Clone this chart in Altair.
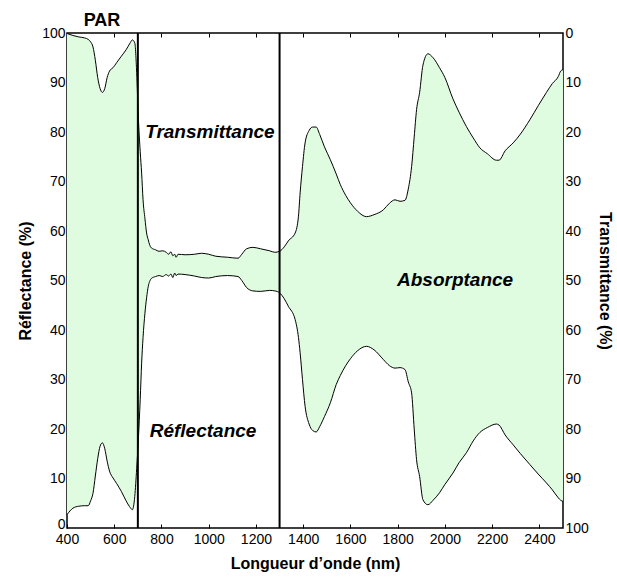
import altair as alt
import pandas as pd

# Wavelength grid (nm)
wavelength = [400, 425, 450, 475, 490, 500, 510, 520, 530, 540, 550, 560, 570, 580, 595,
              610, 630, 650, 665, 677, 687, 695, 702, 710, 716, 722, 730, 737, 744, 750,
              757, 775, 790, 805, 820, 830, 840, 848, 856, 862, 870, 900, 940, 970, 1000,
              1030, 1080, 1124, 1140, 1160, 1187, 1220, 1258, 1280, 1300, 1320, 1337, 1366,
              1380, 1387, 1397, 1408, 1425, 1440, 1455, 1470, 1490, 1515, 1540, 1557, 1580,
              1600, 1630, 1668, 1700, 1740, 1765, 1789, 1810, 1831, 1845, 1859, 1870, 1880,
              1893, 1907, 1928, 1950, 1977, 2000, 2034, 2060, 2091, 2120, 2148, 2180, 2218,
              2229, 2255, 2289, 2320, 2360, 2395, 2430, 2455, 2480, 2490, 2500]

# Reflectance (%) - left axis
reflectance = [2.7, 4.0, 4.4, 4.5, 4.5, 5.5, 7.0, 10.5, 14.0, 16.5, 17.2, 16.0, 13.5, 11.5, 10.1,
               9.0, 7.4, 5.5, 4.3, 3.7, 6.4, 12.0, 17.8, 26.0, 33.3, 38.5, 43.4, 46.5, 48.8, 49.8,
               50.4, 50.8, 51.0, 50.8, 51.2, 50.9, 51.3, 50.6, 51.5, 51.0, 51.3, 51.2, 50.9, 50.6, 50.5,
               50.8, 51.0, 50.8, 50.0, 48.6, 47.9, 47.8, 48.0, 47.9, 47.5, 46.3, 44.8, 42.1,
               38.5, 35.4, 30.0, 24.6, 21.0, 19.7, 19.4, 20.5, 22.5, 25.3, 29.0, 30.8, 32.8,
               34.2, 35.8, 36.7, 36.0, 34.0, 32.8, 32.3, 32.4, 32.0, 29.5, 27.3, 20.0, 13.8,
               10.4, 5.7, 4.7, 5.6, 7.1, 8.8, 11.1, 13.2, 15.2, 17.6, 19.3, 20.3, 21.0,
               20.8, 18.8, 16.8, 15.0, 12.8, 10.9, 9.1, 7.7, 6.1, 5.6, 5.4]

# Transmittance (%) - right axis (0 at top)
transmittance = [0.1, 0.5, 0.8, 1.0, 1.3, 1.8, 2.8, 5.5, 9.0, 11.2, 12.0, 11.2, 9.0, 7.7, 7.0,
                 6.0, 4.7, 3.4, 2.2, 1.4, 2.0, 8.0, 17.0, 24.0, 28.3, 33.7, 37.5, 40.4, 41.8, 42.8,
                 43.4, 43.8, 44.1, 44.0, 44.3, 44.7, 44.2, 45.0, 44.7, 45.3, 44.7, 44.8, 44.7, 44.5, 44.7,
                 45.1, 45.3, 45.5, 44.7, 43.6, 43.3, 43.6, 44.0, 44.3, 44.1, 43.2, 42.0, 40.4,
                 37.0, 32.3, 27.0, 22.2, 19.7, 19.0, 19.0, 20.5, 23.0, 25.6, 28.5, 30.6, 32.8,
                 34.3, 36.0, 37.1, 36.7, 35.7, 34.4, 33.7, 34.0, 33.8, 31.5, 27.0, 21.0, 15.5,
                 12.0, 6.5, 4.2, 5.0, 7.0, 9.0, 13.3, 16.0, 18.9, 21.2, 23.2, 24.4, 25.7,
                 25.7, 23.8, 22.2, 20.4, 17.5, 14.7, 12.0, 10.2, 8.8, 7.7, 7.4]

x_ticks = [400, 600, 800, 1000, 1200, 1400, 1600, 1800, 2000, 2200, 2400]
y_ticks = [0, 10, 20, 30, 40, 50, 60, 70, 80, 90, 100]
boundaries = [700, 1300]

par_text = ["PAR"]
par_x = [548]
par_y = [102.5]

zone_text = ["Transmittance", "Réflectance", "Absorptance"]
zone_x = [1005, 976, 2043]
zone_y = [79.9, 19.5, 50.2]

FILL = "#e0fce0"
FONT = "Liberation Sans"

df = pd.DataFrame({"wl": wavelength, "R": reflectance, "T": transmittance})
df["top"] = 100 - df["T"]

xs = alt.Scale(domain=[400, 2500], nice=False, zero=False)
ys = alt.Scale(domain=[0, 100], nice=False)
ts = alt.Scale(domain=[0, 100], nice=False, reverse=True)

base = alt.Chart(df)

area = base.mark_area(color=FILL, interpolate="monotone").encode(
    x=alt.X("wl:Q", scale=xs,
            axis=alt.Axis(orient="bottom", values=x_ticks, format="d", title="Longueur d’onde (nm)",
                          domain=False, offset=-4, tickSize=4, tickColor="black", tickWidth=1,
                          labelPadding=4, titlePadding=9, grid=False, labelFlush=False)),
    y=alt.Y("R:Q", scale=ys,
            axis=alt.Axis(orient="left", values=y_ticks, format="d", title="Réflectance (%)",
                          domain=False, ticks=False, tickSize=0, labelPadding=2,
                          titlePadding=8, grid=False, labelFlush=False,
                          labelBaseline={"condition": {"test": "datum.value === 0", "value": "alphabetic"},
                                         "value": "middle"})),
    y2="top:Q",
)

refl_line = base.mark_line(color="black", strokeWidth=1, interpolate="monotone").encode(
    x=alt.X("wl:Q", scale=xs,
            axis=alt.Axis(orient="top", values=x_ticks, labels=False, title=None,
                          domain=False, offset=-4, tickSize=4, tickColor="black", tickWidth=1,
                          grid=False)),
    y=alt.Y("R:Q", scale=ys, axis=None),
)

trans_line = base.mark_line(color="black", strokeWidth=1, interpolate="monotone").encode(
    x=alt.X("wl:Q", scale=xs, axis=None),
    y=alt.Y("T:Q", scale=ts,
            axis=alt.Axis(orient="right", values=y_ticks, format="d", title="Transmittance (%)",
                          domain=False, ticks=False, tickSize=0, labelPadding=2,
                          titlePadding=8, grid=False, labelFlush=False)),
)

rules = alt.Chart(pd.DataFrame({"b": boundaries})).mark_rule(
    color="black", strokeWidth=2
).encode(x=alt.X("b:Q", scale=xs, axis=None))

par = alt.Chart(pd.DataFrame({"t": par_text, "x": par_x, "y": par_y})).mark_text(
    font=FONT, fontSize=18, fontWeight="bold", color="black", baseline="middle", align="center"
).encode(
    x=alt.X("x:Q", scale=xs, axis=None),
    y=alt.Y("y:Q", scale=ys, axis=None),
    text="t:N",
)

zones = alt.Chart(pd.DataFrame({"t": zone_text, "x": zone_x, "y": zone_y})).mark_text(
    font=FONT, fontSize=19, fontWeight="bold", fontStyle="italic", color="black",
    baseline="middle", align="center"
).encode(
    x=alt.X("x:Q", scale=xs, axis=None),
    y=alt.Y("y:Q", scale=ys, axis=None),
    text="t:N",
)

chart = alt.layer(area, refl_line, trans_line, rules, par, zones).resolve_scale(
    y="independent"
).resolve_axis(
    x="independent", y="independent"
).properties(
    width=496, height=495,
    padding={"left": 67, "top": 33, "right": 54, "bottom": 50},
    autosize=alt.AutoSizeParams(type="none"),
).configure_view(
    stroke="black", strokeWidth=1.5
).configure_axis(
    labelFont=FONT, labelFontSize=14, labelColor="black",
    titleFont=FONT, titleFontSize=16, titleFontWeight="bold", titleColor="black",
)

chart.save("out.html", embed_options={"renderer": "svg", "actions": False})
